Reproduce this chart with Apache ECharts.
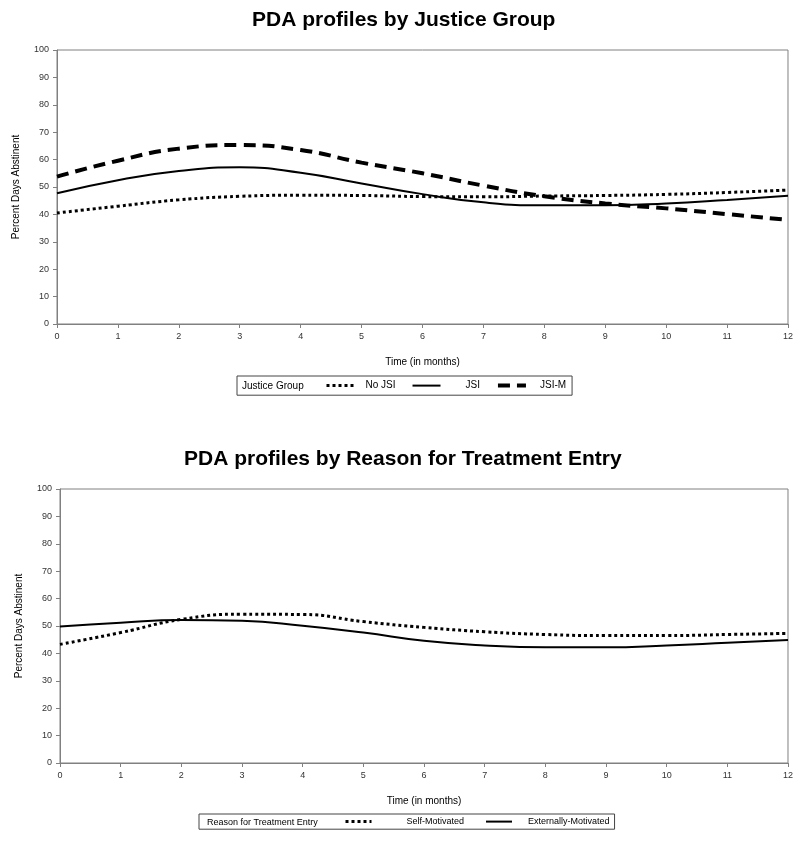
<!DOCTYPE html>
<html>
<head>
<meta charset="utf-8">
<script src="https://cdn.jsdelivr.net/npm/echarts@6/dist/echarts.min.js"></script>
<style>
  html, body { margin: 0; padding: 0; background: #fff; }
  #chart { width: 796px; height: 842px; }
</style>
</head>
<body>
<div id="chart"></div>
<script>
// time points (months)
var months = [0, 1, 2, 3, 4, 5, 6, 7, 8, 9, 10, 11, 12];

// PDA by justice group
var noJsi = [40.5, 43.0, 45.3, 46.6, 47.0, 46.9, 46.5, 46.4, 46.7, 46.9, 47.3, 48.0, 48.9];
var jsi   = [47.7, 52.5, 55.8, 57.2, 55.2, 51.3, 47.4, 44.4, 43.3, 43.3, 44.0, 45.3, 46.8];
var jsiM  = [53.8, 59.6, 64.0, 65.3, 63.5, 58.9, 55.0, 50.5, 46.6, 44.0, 42.2, 40.1, 38.0];

// PDA by reason for treatment entry
var selfMot = [43.3, 47.6, 52.4, 54.3, 54.2, 51.6, 49.5, 47.9, 46.9, 46.5, 46.5, 46.9, 47.3];
var extMot  = [49.8, 51.2, 52.2, 51.9, 50.1, 47.6, 44.6, 42.9, 42.2, 42.2, 42.9, 43.9, 44.9];

var FONT = 'Liberation Sans, Arial, sans-serif';

function pairs(vals) {
  return months.map(function (m, i) { return [m, vals[i]]; });
}

function xAxisFor(gridIndex) {
  return {
    gridIndex: gridIndex,
    type: 'value',
    min: 0, max: 12, interval: 1,
    name: 'Time (in months)',
    nameLocation: 'middle',
    nameGap: 33,
    nameTextStyle: { fontFamily: FONT, fontSize: 10, color: '#000' },
    axisLine: { show: true, lineStyle: { color: '#808080', width: 1 } },
    axisTick: { show: true, length: 4, lineStyle: { color: '#808080' } },
    axisLabel: { fontFamily: FONT, fontSize: 9, color: '#333', margin: 8 },
    splitLine: { show: false }
  };
}

function yAxisFor(gridIndex) {
  return {
    gridIndex: gridIndex,
    type: 'value',
    min: 0, max: 100, interval: 10,
    name: 'Percent Days Abstinent',
    nameLocation: 'middle',
    nameGap: 36,
    nameTextStyle: { fontFamily: FONT, fontSize: 10, color: '#000' },
    axisLine: { show: true, lineStyle: { color: '#808080', width: 1 } },
    axisTick: { show: true, length: 4, lineStyle: { color: '#808080' } },
    axisLabel: { fontFamily: FONT, fontSize: 9, color: '#333', margin: 8 },
    splitLine: { show: false }
  };
}

function lineSeries(name, vals, idx, width, type) {
  return {
    name: name,
    type: 'line',
    xAxisIndex: idx,
    yAxisIndex: idx,
    data: pairs(vals),
    smooth: 0.5,
    symbol: 'none',
    lineStyle: { color: '#000', width: width, type: type },
    itemStyle: { color: '#000' },
    z: 3
  };
}

var DOT = [3, 3];
var DASH = [12, 7];

// hide the marker the legend puts on line icons
var noMarker = { color: 'transparent', borderColor: 'transparent', borderWidth: 0, opacity: 0 };

var chart = echarts.init(document.getElementById('chart'));

chart.setOption({
  animation: false,
  backgroundColor: '#fff',
  title: [
    { text: 'PDA profiles by Justice Group', left: 247, top: 5,
      textStyle: { fontFamily: FONT, fontSize: 21, fontWeight: 'bold', color: '#000' } },
    { text: 'PDA profiles by Reason for Treatment Entry', left: 179, top: 444,
      textStyle: { fontFamily: FONT, fontSize: 21, fontWeight: 'bold', color: '#000' } }
  ],
  grid: [
    { left: 57, top: 50, width: 731, height: 274, show: true, borderColor: '#808080', borderWidth: 1 },
    { left: 60, top: 489, width: 731, height: 274, show: true, borderColor: '#808080', borderWidth: 1 }
  ],
  xAxis: [xAxisFor(0), xAxisFor(1)],
  yAxis: [yAxisFor(0), yAxisFor(1)],
  legend: [
    {
      left: 237, top: 376,
      orient: 'horizontal',
      padding: [4, 6, 4, 88],
      itemWidth: 28, itemHeight: 14, itemGap: 16,
      borderColor: '#444', borderWidth: 1,
      itemStyle: noMarker,
      lineStyle: { width: 'inherit' },
      textStyle: { fontFamily: FONT, fontSize: 10, color: '#000' },
      data: [
        { name: 'No JSI', textStyle: { padding: [0, 0, 0, 6] } },
        { name: 'JSI', textStyle: { padding: [0, 0, 0, 20] } },
        { name: 'JSI-M', textStyle: { padding: [0, 0, 0, 9] } }
      ]
    },
    {
      left: 199, top: 814,
      orient: 'horizontal',
      padding: [2, 5, 2, 145],
      itemWidth: 26, itemHeight: 14, itemGap: 21,
      borderColor: '#444', borderWidth: 1,
      itemStyle: noMarker,
      lineStyle: { width: 'inherit' },
      textStyle: { fontFamily: FONT, fontSize: 9, color: '#000' },
      data: [
        { name: 'Self-Motivated', textStyle: { padding: [0, 0, 0, 30] } },
        { name: 'Externally-Motivated', textStyle: { padding: [0, 0, 0, 11] } }
      ]
    }
  ],
  graphic: [
    { type: 'text', left: 242, top: 381,
      style: { text: 'Justice Group', font: '10px ' + FONT, fill: '#000' } },
    { type: 'text', left: 207, top: 818,
      style: { text: 'Reason for Treatment Entry', font: '9px ' + FONT, fill: '#000' } }
  ],
  series: [
    lineSeries('No JSI', noJsi, 0, 3, DOT),
    lineSeries('JSI', jsi, 0, 2, 'solid'),
    lineSeries('JSI-M', jsiM, 0, 4, DASH),
    lineSeries('Self-Motivated', selfMot, 1, 3, DOT),
    lineSeries('Externally-Motivated', extMot, 1, 2, 'solid')
  ]
});
</script>
</body>
</html>
